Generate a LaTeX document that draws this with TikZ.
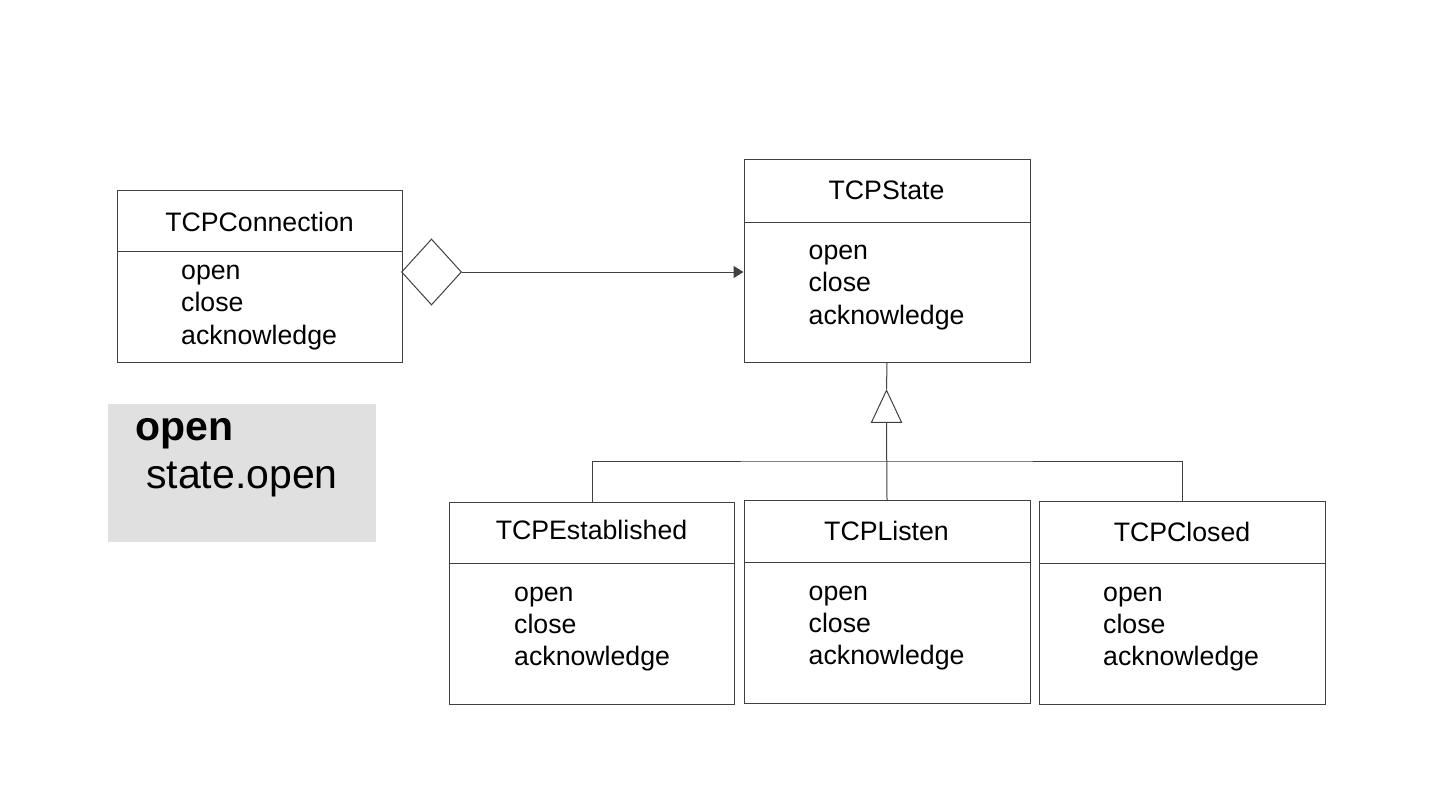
\documentclass[tikz,border=0pt]{standalone}
\usepackage{fontspec}
\setmainfont{Liberation Sans}
\usetikzlibrary{shapes.geometric,arrows.meta}
\definecolor{linec}{HTML}{404040}
\definecolor{notebg}{HTML}{E0E0E0}
\tikzset{
  cls/.style={draw=linec, line width=1pt, rectangle, inner sep=0pt, anchor=north west},
  ttl/.style={anchor=base, inner sep=0pt, font=\fontsize{26.7}{32}\selectfont},
  itm/.style={anchor=base west, inner sep=0pt, font=\fontsize{26.7}{32}\selectfont},
  conn/.style={draw=linec, line width=1pt},
}
\begin{document}
\begin{tikzpicture}[x=1pt,y=-1pt]
\useasboundingbox (0,0) rectangle (1440,808);
% note
\node[fill=notebg, inner sep=0pt, anchor=north west, minimum width=268pt, minimum height=138pt] (note) at (107.5,404) {};
\node[anchor=base west, inner sep=0pt, font=\fontsize{41}{48}\selectfont\bfseries] (notet) at (135,440) {open};
\node[anchor=base west, inner sep=0pt, font=\fontsize{41}{48}\selectfont] (notes) at (146,488) {state.open};

% TCPConnection
\node[cls, minimum width=285pt, minimum height=172pt] (tcpconn) at (117,190) {};
\draw[conn] (117,251) -- (402,251);
\node[ttl] (tcpconnT) at (259.5,231) {TCPConnection};
\node[itm] (tcpconn1) at (181,279) {open};
\node[itm] (tcpconn2) at (181,311.5) {close};
\node[itm] (tcpconn3) at (181,344) {acknowledge};

% TCPState
\node[cls, minimum width=286pt, minimum height=203pt] (tcpstate) at (743.5,159) {};
\draw[conn] (743.5,222) -- (1029.5,222);
\node[ttl] (tcpstateT) at (886.5,199) {TCPState};
\node[itm] (tcpstate1) at (808.5,259) {open};
\node[itm] (tcpstate2) at (808.5,291.5) {close};
\node[itm] (tcpstate3) at (808.5,324) {acknowledge};

% TCPEstablished
\node[cls, minimum width=285pt, minimum height=202pt] (tcpest) at (449,502) {};
\draw[conn] (449,563) -- (734,563);
\node[ttl] (tcpestT) at (591.5,539) {TCPEstablished};
\node[itm] (tcpest1) at (514,601) {open};
\node[itm] (tcpest2) at (514,633) {close};
\node[itm] (tcpest3) at (514,665) {acknowledge};

% TCPListen
\node[cls, minimum width=286pt, minimum height=203pt] (tcplisten) at (743.5,500) {};
\draw[conn] (743.5,562) -- (1029.5,562);
\node[ttl] (tcplistenT) at (886.5,540) {TCPListen};
\node[itm] (tcplisten1) at (808.5,600) {open};
\node[itm] (tcplisten2) at (808.5,632) {close};
\node[itm] (tcplisten3) at (808.5,664) {acknowledge};

% TCPClosed
\node[cls, minimum width=286pt, minimum height=203pt] (tcpclosed) at (1039,501) {};
\draw[conn] (1039,563) -- (1325,563);
\node[ttl] (tcpclosedT) at (1182,541) {TCPClosed};
\node[itm] (tcpclosed1) at (1103,601) {open};
\node[itm] (tcpclosed2) at (1103,633) {close};
\node[itm] (tcpclosed3) at (1103,665) {acknowledge};

% aggregation diamond
\node[draw=linec, line width=1pt, diamond, inner sep=0pt, minimum width=60pt, minimum height=66pt] (dia) at (431.5,272) {};
\draw[conn, -{Triangle[length=10pt,width=12pt]}] (dia.east) -- (tcpstate.west |- dia.east);

% inheritance triangle
\node[draw=linec, line width=1pt, isosceles triangle, isosceles triangle stretches, shape border rotate=90, inner sep=0pt, minimum width=30pt, minimum height=32pt, anchor=apex] (tri) at (886.5,389) {};
\coordinate (bus) at (886.5,461);
\draw[conn] (tcpstate.south) -- (tri.apex);
\draw[conn] (tri.south) -- (tcplisten.north);
\draw[conn] (tcpest.north) |- (bus) -| (tcpclosed.north);
\end{tikzpicture}
\end{document}
